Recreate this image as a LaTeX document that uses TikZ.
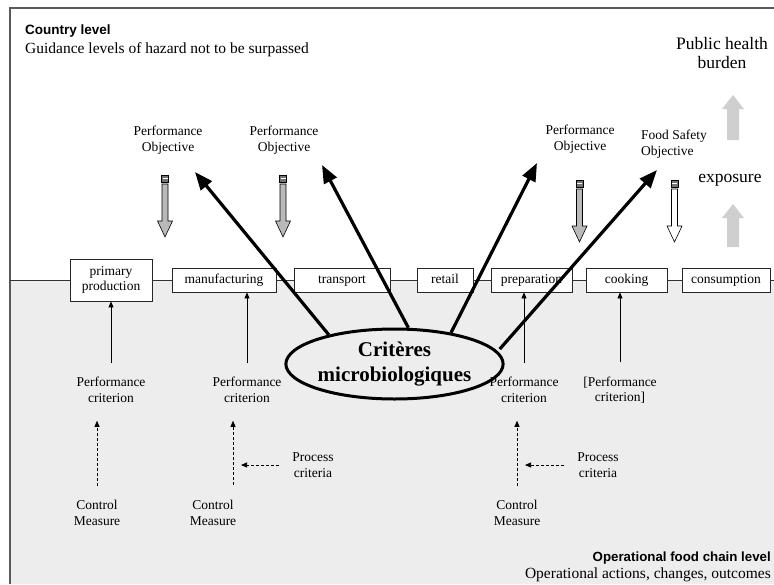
\documentclass[tikz,border=0pt]{standalone}
\usepackage{fontspec}
\setmainfont{Liberation Serif}
\newfontfamily\headsans{Liberation Sans}
\usetikzlibrary{arrows.meta,shapes.geometric,calc}

\begin{document}
\begin{tikzpicture}[x=1pt,y=-1pt,
  lbl/.style={font=\fontsize{13.5}{15.5}\selectfont, align=center, inner sep=0pt},
  stage/.style={draw=black!85, line width=0.8pt, fill=white,
    font=\fontsize{13.5}{15.5}\selectfont, align=center, inner sep=0pt,
    minimum height=24pt},
  oneline/.style={text height=9.5pt, text depth=3pt},
  link/.style={line width=0.9pt, black!80},
  bigarrow/.style={line width=3.2pt, -{Triangle[length=18pt,width=14pt]}},
  thinarrow/.style={line width=0.8pt, -{Triangle[length=6pt,width=5pt]}},
  dasharrow/.style={line width=0.7pt, dash pattern=on 3pt off 2pt,
    -{Triangle[length=6pt,width=5pt]}},
  uparrow/.style={fill=gray!38, draw=none},
  pics/objarrow/.style={code={
    \draw[fill=black!55, line width=0.5pt] (-3.5,0) rectangle (3.5,7);
    \draw[white, line width=0.8pt] (-2.5,3.5) -- (2.5,3.5);
    \draw[fill=#1, line width=0.6pt] (-3,9) -- (3,9) -- (3,46) -- (7.5,46)
      -- (0,62) -- (-7.5,46) -- (-3,46) -- cycle;
  }},
]
\useasboundingbox (0,0) rectangle (774,584);

% operational level: shaded lower band
\fill[black!7] (10,280) rectangle (774,584);

% frame
\draw[line width=1.3pt, black!65] (10,584) -- (10,8) -- (774,8);

% headings
\node[font=\headsans\bfseries\fontsize{13.5}{15}\selectfont, anchor=base west, inner sep=0pt]
  (cl) at (25,34) {Country level};
\node[font=\fontsize{15.5}{17}\selectfont, anchor=base west, inner sep=0pt]
  (gl) at (25,53) {Guidance levels of hazard not to be surpassed};
\node[font=\headsans\bfseries\fontsize{13.3}{15}\selectfont, anchor=base east, inner sep=0pt]
  (ofl) at (771,561) {Operational food chain level};
\node[font=\fontsize{15.5}{17}\selectfont, anchor=base east, inner sep=0pt]
  (oac) at (771,578) {Operational actions, changes, outcomes};

% public health side
\node[font=\fontsize{17.5}{19}\selectfont, align=center, inner sep=0pt]
  (phb) at (722,53) {Public health\\burden};
\node[font=\fontsize{17.5}{19}\selectfont, inner sep=0pt] (expo) at (730,180) {exposure};
\fill[uparrow] (727,140) -- (727,109) -- (722,109) -- (733,95) -- (744,109)
  -- (739,109) -- (739,140) -- cycle;
\fill[uparrow] (727,247) -- (727,218) -- (722,218) -- (733,204) -- (744,218)
  -- (739,218) -- (739,247) -- cycle;

% objectives
\node[lbl] (po1) at (168,140) {Performance\\Objective};
\node[lbl] (po2) at (284,140) {Performance\\Objective};
\node[lbl] (po3) at (580,139) {Performance\\Objective};
\node[lbl, align=left, anchor=west] (fso) at (641,144) {Food Safety\\Objective};

\pic at (165,175) {objarrow=gray!55};
\pic at (283,175) {objarrow=gray!55};
\pic at (579.5,180) {objarrow=gray!55};
\pic at (674.5,180) {objarrow=white};

% food chain
\coordinate (chainL) at (10,280);
\coordinate (chainR) at (774,280);
\node[stage, minimum width=82pt, minimum height=42pt] (pp) at (111,280) {primary\\production};
\node[stage, oneline, minimum width=104pt] (mf) at (224,280) {manufacturing};
\node[stage, oneline, minimum width=96pt] (tr) at (342,280) {transport};
\node[stage, oneline, minimum width=56pt] (rt) at (445,280) {retail};
\node[stage, oneline, minimum width=81pt] (pr) at (531.5,280) {preparation};
\node[stage, oneline, minimum width=81pt] (ck) at (626.5,280) {cooking};
\node[stage, oneline, minimum width=88pt] (cs) at (726,280) {consumption};
\draw[link] (chainL) -- (pp);
\draw[link] (pp) -- (mf);
\draw[link] (mf) -- (tr);
\draw[link] (tr) -- (rt);
\draw[link] (rt) -- (pr);
\draw[link] (pr) -- (ck);
\draw[link] (ck) -- (cs);
\draw[link] (cs) -- (chainR);

% performance criteria
\node[lbl] (pc1) at (111,390) {Performance\\criterion};
\node[lbl] (pc2) at (247,390) {Performance\\criterion};
\node[lbl] (pc3) at (524,390) {Performance\\criterion};
\node[lbl] (pc4) at (620,390) {[Performance\\criterion]};
\draw[thinarrow, shorten <=14pt] (pc1.north) -- (pc1.north |- pp.south);
\draw[thinarrow, shorten <=14pt] (pc2.north) -- (pc2.north |- mf.south);
\draw[thinarrow, shorten <=14pt] (pc3.north) -- (pc3.north |- pr.south);
\draw[thinarrow, shorten <=14pt] (pc4.north) -- (pc4.north |- ck.south);

% control measures and process criteria
\node[lbl] (cm1) at (97,513) {Control\\Measure};
\node[lbl] (cm2) at (213,513) {Control\\Measure};
\node[lbl] (cm3) at (517,513) {Control\\Measure};
\node[lbl] (pcr1) at (313,465) {Process\\criteria};
\node[lbl] (pcr2) at (598,465) {Process\\criteria};
\coordinate (d2) at (233,485);
\draw[dasharrow, shorten <=14pt, shorten >=18pt] (cm1.north) -- (cm1.north |- pc1.south);
\draw[dasharrow, shorten >=18pt] (d2) -- (d2 |- pc2.south);
\draw[dasharrow, shorten <=14pt, shorten >=18pt] (cm3.north) -- (cm3.north |- pc3.south);
\draw[dasharrow, shorten <=13pt, shorten >=8pt] (pcr1.west) -- (d2 |- pcr1.west);
\draw[dasharrow, shorten <=13pt, shorten >=8pt] (pcr2.west) -- (cm3.north |- pcr2.west);

% microbiological criteria
\node[ellipse, draw, line width=3pt, minimum width=192pt, minimum height=70pt,
  inner sep=0pt, align=center, font=\bfseries\fontsize{21}{25}\selectfont]
  (crit) at (394.5,364) {Critères\\microbiologiques};
\coordinate (t1) at (195,172);
\coordinate (t2) at (322,165);
\coordinate (t3) at (537,163);
\coordinate (t4) at (657,170);
\draw[bigarrow] (crit.156) -- (t1);
\draw[bigarrow] (crit.69) -- (t2);
\draw[bigarrow] (crit.29) -- (t3);
\draw[bigarrow, shorten <=3pt] (crit.7) -- (t4);

\end{tikzpicture}
\end{document}
